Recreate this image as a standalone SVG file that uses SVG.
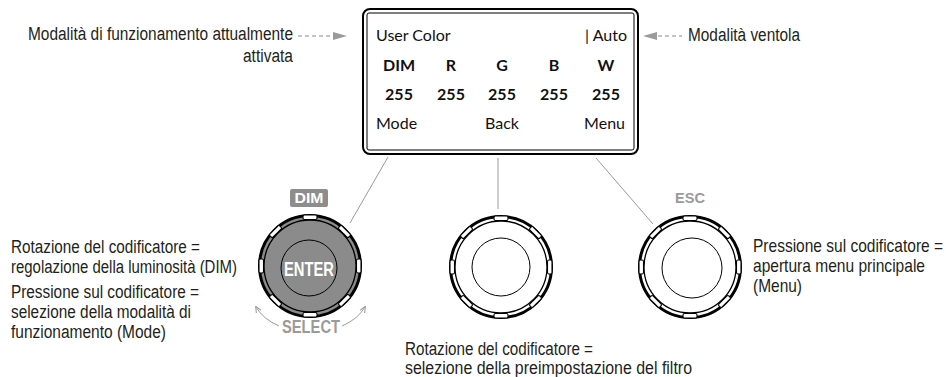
<svg xmlns="http://www.w3.org/2000/svg" xmlns:xlink="http://www.w3.org/1999/xlink" width="946" height="377" viewBox="0 0 946 377">
<style>
.ann{font-family:"Liberation Sans",Arial,sans-serif;font-size:18px;fill:#231f20}
.lcd{font-family:Lato,"Open Sans",sans-serif;font-size:16px;fill:#111}
.lcdb{font-family:Lato,"Open Sans",sans-serif;font-size:16px;font-weight:bold;fill:#111;text-anchor:middle}
.lbl{font-family:"Liberation Sans",Arial,sans-serif;font-weight:bold;text-anchor:middle}
.conn{stroke:#9a9a9a;stroke-width:1;fill:none}
.dash{stroke:#8a8a8a;stroke-width:1.2;stroke-dasharray:4 3;fill:none}
</style>
<defs>
<g id="notch"><rect x="-7" y="-51" width="14" height="4.5" rx="1.5" fill="#fff" stroke="#000" stroke-width="1.1"/></g>
<g id="ring">
<circle r="50.5" fill="none" stroke="#000" stroke-width="3"/>
<circle r="46" fill="none" stroke="#000" stroke-width="1.3"/>
<use xlink:href="#notch"/>
<use xlink:href="#notch" transform="rotate(45)"/>
<use xlink:href="#notch" transform="rotate(90)"/>
<use xlink:href="#notch" transform="rotate(135)"/>
<use xlink:href="#notch" transform="rotate(180)"/>
<use xlink:href="#notch" transform="rotate(225)"/>
<use xlink:href="#notch" transform="rotate(270)"/>
<use xlink:href="#notch" transform="rotate(315)"/>
</g>
<marker id="ah" viewBox="0 0 10 10" refX="8" refY="5" markerWidth="7" markerHeight="7" orient="auto"><path d="M0,1 L9,5 L0,9" fill="none" stroke="#9a9a9a" stroke-width="1.5"/></marker>
</defs>

<g id="display">
<rect x="363" y="9" width="275" height="145" rx="7" fill="#fff" stroke="#000" stroke-width="2"/>
<rect x="367" y="13" width="267" height="137" rx="2" fill="none" stroke="#000" stroke-width="1"/>
<text class="lcd" x="376" y="41">User Color</text>
<text class="lcd" x="627" y="41" text-anchor="end">| Auto</text>
<text class="lcdb" x="399" y="71">DIM</text>
<text class="lcdb" x="451" y="71">R</text>
<text class="lcdb" x="502" y="71">G</text>
<text class="lcdb" x="554" y="71">B</text>
<text class="lcdb" x="606" y="71">W</text>
<text class="lcdb" x="399" y="100">255</text>
<text class="lcdb" x="451" y="100">255</text>
<text class="lcdb" x="502" y="100">255</text>
<text class="lcdb" x="554" y="100">255</text>
<text class="lcdb" x="606" y="100">255</text>
<text class="lcd" x="376" y="129">Mode</text>
<text class="lcd" x="502" y="129" text-anchor="middle">Back</text>
<text class="lcd" x="625" y="129" text-anchor="end">Menu</text>
</g>

<g id="connectors">
<line class="conn" x1="388" y1="157" x2="350" y2="223"/>
<line class="conn" x1="498" y1="158" x2="498" y2="209"/>
<line class="conn" x1="596" y1="158" x2="653" y2="224"/>
<line class="dash" x1="298" y1="36" x2="334" y2="36"/>
<polygon points="333,32 347,36 333,40" fill="#9a9a9a"/>
<line class="dash" x1="658" y1="36" x2="682" y2="36"/>
<polygon points="657,32 643,36 657,40" fill="#9a9a9a"/>
<path class="conn" d="M279 326 Q263 319 256 307" stroke-width="1.3" marker-end="url(#ah)"/>
<path class="conn" d="M342 326 Q358 319 365 307" stroke-width="1.3" marker-end="url(#ah)"/>
</g>

<g id="knob-left">
<circle cx="310" cy="266" r="49.5" fill="#8b8b8b"/>
<use xlink:href="#ring" transform="translate(310 266)"/>
<circle cx="309" cy="268" r="28" fill="#8b8b8b" stroke="#000" stroke-width="1"/>
<text class="lbl" x="309" y="276" font-size="20" fill="#fff" textLength="50" lengthAdjust="spacingAndGlyphs">ENTER</text>
<rect x="290" y="189" width="38" height="18" rx="2" fill="#8d8d8d"/>
<text class="lbl" x="309" y="203" font-size="14" fill="#fff" textLength="29" lengthAdjust="spacingAndGlyphs">DIM</text>
<text class="lbl" x="311" y="333" font-size="19" fill="#9a9a9a" textLength="58" lengthAdjust="spacingAndGlyphs">SELECT</text>
</g>

<g id="knob-middle">
<use xlink:href="#ring" transform="translate(501 267)"/>
<circle cx="501" cy="267" r="29" fill="none" stroke="#000" stroke-width="1"/>
</g>

<g id="knob-right">
<use xlink:href="#ring" transform="translate(690 267)"/>
<circle cx="692" cy="268" r="30" fill="none" stroke="#000" stroke-width="1"/>
<text class="lbl" x="690" y="203" font-size="15" fill="#9a9a9a" textLength="30" lengthAdjust="spacingAndGlyphs">ESC</text>
</g>

<g id="annotations">
<text class="ann" x="28" y="40" textLength="265" lengthAdjust="spacingAndGlyphs">Modalità di funzionamento attualmente</text>
<text class="ann" x="243" y="62" textLength="50" lengthAdjust="spacingAndGlyphs">attivata</text>
<text class="ann" x="688" y="41" textLength="112" lengthAdjust="spacingAndGlyphs">Modalità ventola</text>
<text class="ann" x="11" y="253" textLength="189" lengthAdjust="spacingAndGlyphs">Rotazione del codificatore =</text>
<text class="ann" x="11" y="273" textLength="226" lengthAdjust="spacingAndGlyphs">regolazione della luminosità (DIM)</text>
<text class="ann" x="11" y="298" textLength="188" lengthAdjust="spacingAndGlyphs">Pressione sul codificatore =</text>
<text class="ann" x="11" y="318" textLength="180" lengthAdjust="spacingAndGlyphs">selezione della modalità di</text>
<text class="ann" x="11" y="338" textLength="155" lengthAdjust="spacingAndGlyphs">funzionamento (Mode)</text>
<g transform="translate(753 0) scale(0.86 1)">
<text class="ann" x="0" y="252" textLength="221" lengthAdjust="spacingAndGlyphs">Pressione sul codificatore =</text>
<text class="ann" x="0" y="272" textLength="200" lengthAdjust="spacingAndGlyphs">apertura menu principale</text>
<text class="ann" x="0" y="292" textLength="57" lengthAdjust="spacingAndGlyphs">(Menu)</text>
</g>
<text class="ann" x="405" y="355" textLength="188" lengthAdjust="spacingAndGlyphs">Rotazione del codificatore =</text>
<text class="ann" x="405" y="374" textLength="287" lengthAdjust="spacingAndGlyphs">selezione della preimpostazione del filtro</text>
</g>
</svg>
